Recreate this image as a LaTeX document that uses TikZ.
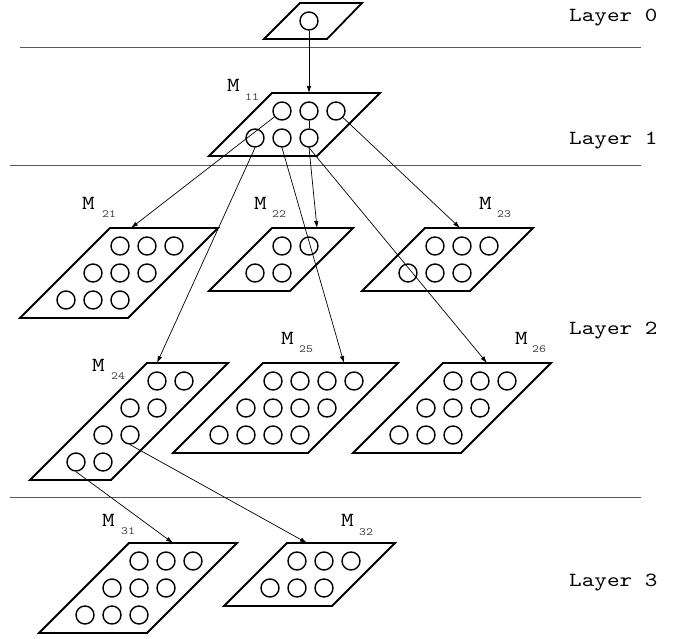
\documentclass[tikz,border=0pt]{standalone}
\usepackage{fontspec}
\newfontfamily\cour[FakeStretch=1.2]{lmmono10-regular.otf}
\usetikzlibrary{arrows.meta}
\tikzset{
 para/.style={draw=black, line width=1.8pt, line join=miter},
 unit/.style={circle, draw=black, line width=1.4pt, minimum size=18pt, inner sep=0pt},
 conn/.style={draw=black, line width=0.7pt, -{Latex[length=7pt,width=4.5pt]}},
 plainconn/.style={draw=black, line width=0.7pt},
 hline/.style={draw=black!65, line width=0.8pt},
 mlab/.style={anchor=base west, inner sep=0pt, font=\cour\fontsize{20}{24}\selectfont},
 sublab/.style={anchor=base west, inner sep=0pt, font=\cour\fontsize{11}{13}\selectfont, text=black!75},
 laylab/.style={anchor=base west, inner sep=0pt, font=\cour\fontsize{20}{24}\selectfont},
}
\newcommand\modblock[5]{%
  \draw[para] (#2,#3) -- ++({27*(#5+1)},0) -- ++({-27*#4-9},{27*#4+9}) -- ++({-27*(#5+1)},0) -- cycle;
  \foreach \r in {1,...,#4}{\foreach \i in {1,...,#5}{%
    \node[unit] (#1-\r-\i) at ({#2+10+27*(\i-\r)},{#3+18+27*(\r-1)}) {};}}%
}
\begin{document}
\begin{tikzpicture}[x=1pt,y=-1pt]
\useasboundingbox (0,0) rectangle (689,639);
% layer separators
\draw[hline] (20,47) -- (641,47);
\draw[hline] (10,165) -- (641,165);
\draw[hline] (10,497) -- (641,497);
% layer labels
\node[laylab] (lay0) at (569,22) {Layer 0};
\node[laylab] (lay1) at (569,145) {Layer 1};
\node[laylab] (lay2) at (569,335) {Layer 2};
\node[laylab] (lay3) at (569,586) {Layer 3};
% layer 0
\draw[para] (300,3) -- (362,3) -- (327,39) -- (264,39) -- cycle;
\node[unit] (L0) at (309,21) {};
% modules
\modblock{M11}{272}{93}{2}{3}
\modblock{M21}{110}{228}{3}{3}
\modblock{M22}{272}{228}{2}{2}
\modblock{M23}{425}{228}{2}{3}
\modblock{M24}{147}{363}{4}{2}
\modblock{M25}{263}{363}{3}{4}
\modblock{M26}{443}{363}{3}{3}
\modblock{M31}{129}{543}{3}{3}
\modblock{M32}{287}{543}{2}{3}
% module labels
\node[mlab] (m11) at (227,92) {M};  \node[sublab] (s11) at (245,101) {11};
\node[mlab] (m21) at (82,210) {M};  \node[sublab] (s21) at (102,218) {21};
\node[mlab] (m22) at (254,210) {M}; \node[sublab] (s22) at (272,218) {22};
\node[mlab] (m23) at (479,210) {M}; \node[sublab] (s23) at (497,218) {23};
\node[mlab] (m24) at (92,372) {M};  \node[sublab] (s24) at (111,380) {24};
\node[mlab] (m25) at (281,345) {M}; \node[sublab] (s25) at (299,353) {25};
\node[mlab] (m26) at (515,345) {M}; \node[sublab] (s26) at (532,353) {26};
\node[mlab] (m31) at (102,526) {M}; \node[sublab] (s31) at (121,534) {31};
\node[mlab] (m32) at (341,526) {M}; \node[sublab] (s32) at (359,535) {32};
% arrow targets on module top edges
\coordinate (in11) at (309,93);
\coordinate (in21) at (131,228);
\coordinate (in22) at (317,228);
\coordinate (in23) at (460,228);
\coordinate (in24) at (157,363);
\coordinate (in25) at (344,363);
\coordinate (in26) at (487,363);
\coordinate (in31) at (173,543);
\coordinate (in32) at (307,543);
% connectors
\draw[conn] (L0) -- (in11);
\draw[plainconn] (M11-1-2) -- (M11-2-3);
\draw[conn] (M11-1-1) -- (in21);
\draw[conn] (M11-1-3) -- (in23);
\draw[conn] (M11-2-1.south) -- (in24);
\draw[conn] (M11-2-2.south) -- (in25);
\draw[conn] (M11-2-3.south) -- (in22);
\draw[conn] (M11-2-3.south) -- (in26);
\draw[conn] (M24-4-1.south) -- (in31);
\draw[conn] (M24-3-2.south) -- (in32);
\end{tikzpicture}
\end{document}
